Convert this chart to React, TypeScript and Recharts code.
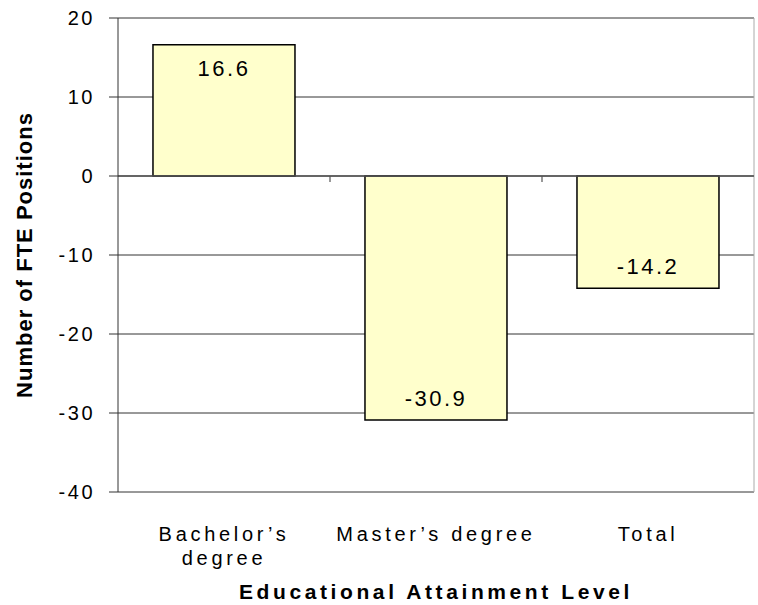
import React from 'react';
import {
    BarChart,
    Bar,
    XAxis,
    YAxis,
    CartesianGrid,
    ReferenceLine,
    LabelList
} from 'recharts';

const categories = ['Bachelor’s degree', 'Master’s degree', 'Total'];
const fteChange = [16.6, -30.9, -14.2];
const yTicks = [-40, -30, -20, -10, 0, 10, 20];
const tickLines: Record<string, string[]> = {
    'Bachelor’s degree': ['Bachelor’s', 'degree'],
    'Master’s degree': ['Master’s degree'],
    Total: ['Total']
};

const data = categories.map((name, i) => ({ name, value: fteChange[i] }));

const FONT = 'Arial, "Liberation Sans", sans-serif';

function CategoryTick({ x, y, payload }: any) {
    const lines = tickLines[payload.value] || [payload.value];
    return (
        <g>
            {lines.map((line, i) => (
                <text
                    key={line}
                    x={x}
                    y={y + 41 + i * 24}
                    textAnchor="middle"
                    fontFamily={FONT}
                    fontSize={20}
                    letterSpacing={3.7}
                    fill="#000"
                >
                    {line}
                </text>
            ))}
        </g>
    );
}

function ValueLabel({ x, y, width, height, value }: any) {
    const top = Math.min(y, y + height);
    const bottom = Math.max(y, y + height);
    const cx = x + width / 2;
    const ty = value >= 0 ? top + 31 : bottom - 14;
    return (
        <text x={cx} y={ty} textAnchor="middle" fontFamily={FONT} fontSize={22} letterSpacing={2.5} fill="#000">
            {value.toFixed(1)}
        </text>
    );
}

// x axis drawn along zero, with tick marks on the category boundaries
function ZeroAxis({ x1, y1, x2 }: any) {
    const step = (x2 - x1) / categories.length;
    const marks = categories.slice(1).map((_, i) => x1 + step * (i + 1));
    return (
        <g>
            <line x1={x1} y1={y1} x2={x2} y2={y1} stroke="#555" strokeWidth={1.5} />
            {marks.map((mx) => (
                <line key={mx} x1={mx} y1={y1} x2={mx} y2={y1 + 6} stroke="#555" strokeWidth={1.2} />
            ))}
        </g>
    );
}

export default function App() {
    return (
        <div style={{ position: 'absolute', left: 0, top: 0, width: 758, height: 605, background: '#fff' }}>
            <BarChart
                width={758}
                height={605}
                data={data}
                margin={{ top: 18, right: 4, left: 0, bottom: 0 }}
                barCategoryGap="16.5%"
            >
                <CartesianGrid
                    vertical={false}
                    stroke="#333"
                    strokeWidth={1}
                />
                <CartesianGrid
                    horizontal={false}
                    verticalCoordinatesGenerator={({ offset }: any) => [offset.left + offset.width]}
                    stroke="#aaa"
                />
                <XAxis
                    dataKey="name"
                    height={113}
                    axisLine={false}
                    tickLine={false}
                    interval={0}
                    tick={<CategoryTick />}
                    label={{
                        content: ({ viewBox }: any) => (
                            <text
                                x={viewBox.x + viewBox.width / 2}
                                y={599}
                                textAnchor="middle"
                                fontFamily={FONT}
                                fontSize={21}
                                fontWeight="bold"
                                letterSpacing={3.6}
                                fill="#000"
                            >
                                Educational Attainment Level
                            </text>
                        )
                    }}
                />
                <YAxis
                    width={118}
                    domain={[-40, 20]}
                    ticks={yTicks}
                    interval={0}
                    stroke="#333"
                    tickSize={9}
                    tickMargin={14}
                    tick={{ fill: '#000', fontSize: 20, fontFamily: FONT, letterSpacing: 2.5 } as any}
                    label={{
                        content: ({ viewBox }: any) => {
                            const cy = viewBox.y + viewBox.height / 2;
                            return (
                                <text
                                    x={32}
                                    y={cy}
                                    transform={`rotate(-90, 32, ${cy})`}
                                    textAnchor="middle"
                                    fontFamily={FONT}
                                    fontSize={22}
                                    fontWeight="bold"
                                    letterSpacing={1}
                                    fill="#000"
                                >
                                    Number of FTE Positions
                                </text>
                            );
                        }
                    }}
                />
                <Bar dataKey="value" fill="#FFFFCC" stroke="#000" strokeWidth={1.5} isAnimationActive={false}>
                    <LabelList dataKey="value" content={<ValueLabel />} />
                </Bar>
                <ReferenceLine y={0} shape={<ZeroAxis />} />
            </BarChart>
        </div>
    );
}
